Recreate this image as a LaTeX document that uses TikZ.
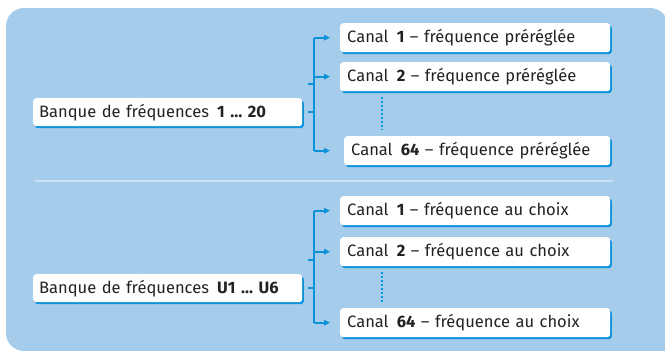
\documentclass[tikz,border=0pt]{standalone}
\usepackage{fontspec}
\setmainfont{Fira Sans}
\usetikzlibrary{arrows.meta,shadows}
\definecolor{bgblue}{HTML}{A6CCEC}
\definecolor{lineblue}{HTML}{0C92DA}
\definecolor{sepblue}{HTML}{CFE3F5}
\definecolor{txt}{HTML}{222222}
\begin{document}
\begin{tikzpicture}[x=1pt,y=-1pt,
  box/.style={fill=white, rounded corners=3pt, anchor=north west,
    minimum height=29pt, inner xsep=7pt, inner ysep=0pt, align=left,
    text=txt, font=\fontsize{16.5}{18}\selectfont,
    general shadow={fill=lineblue, shadow xshift=1.6pt, shadow yshift=-2pt}},
  cbox/.style={box, text width=256pt},
  bbox/.style={box, text width=257pt, inner xsep=6pt, minimum height=28pt},
  brk/.style={draw=lineblue, line width=2pt},
  arr/.style={draw=lineblue, line width=1.6pt, -{Triangle[length=6pt,width=5.5pt]}, shorten >=10pt},
  dots/.style={draw=lineblue, line width=2.2pt, dash pattern=on 2pt off 2pt}]
\useasboundingbox (0,0) rectangle (665,351);
\clip (0,0) rectangle (665,351);
\fill[bgblue, rounded corners=18pt] (700,351) -- (6,351) -- (6,8) -- (668,8) -- (668,380) -- cycle;
\draw[sepblue, line width=1.5pt] (35,181) -- (613,181);
% top group
\node[bbox] (b1) at (33,98) {Banque de fréquences\enspace\textbf{1 … 20}};
\node[cbox] (t1) at (340,23) {Canal\enspace\textbf{1} – fréquence préréglée};
\node[cbox] (t2) at (340,62) {Canal\enspace\textbf{2} – fréquence préréglée};
\node[cbox, text width=252pt] (t3) at (344,136) {Canal\enspace\textbf{64} – fréquence préréglée};
\coordinate (k1) at (314,0);
\draw[brk] (t1.west -| k1) -- (t3.west -| k1);
\draw[brk] ([xshift=6pt]b1.east) -- (b1.east -| k1);
\draw[brk] ([xshift=6pt,yshift=28pt]b1.east) -- ([yshift=28pt]b1.east -| k1);
\draw[arr] (t1.west -| k1) -- (t1.west);
\draw[arr] (t2.west -| k1) -- (t2.west);
\draw[arr, shorten >=14pt] (t3.west -| k1) -- (t3.west);
\coordinate (d1a) at (382,97);
\coordinate (d1b) at (382,130);
\draw[dots] (d1a) -- (d1b);
% bottom group
\node[bbox] (b2) at (33,274) {Banque de fréquences\enspace\textbf{U1 … U6}};
\node[cbox] (u1) at (340,196) {Canal\enspace\textbf{1} – fréquence au choix};
\node[cbox] (u2) at (340,237) {Canal\enspace\textbf{2} – fréquence au choix};
\node[cbox] (u3) at (340,308) {Canal\enspace\textbf{64} – fréquence au choix};
\coordinate (k2) at (314,0);
\draw[brk] (u1.west -| k2) -- (u3.west -| k2);
\draw[brk] ([xshift=6pt]b2.east) -- (b2.east -| k2);
\draw[brk] ([xshift=6pt,yshift=28pt]b2.east) -- ([yshift=28pt]b2.east -| k2);
\draw[arr] (u1.west -| k2) -- (u1.west);
\draw[arr] (u2.west -| k2) -- (u2.west);
\draw[arr] (u3.west -| k2) -- (u3.west);
\coordinate (d2a) at (382,272);
\coordinate (d2b) at (382,304);
\draw[dots] (d2a) -- (d2b);
\end{tikzpicture}
\end{document}
